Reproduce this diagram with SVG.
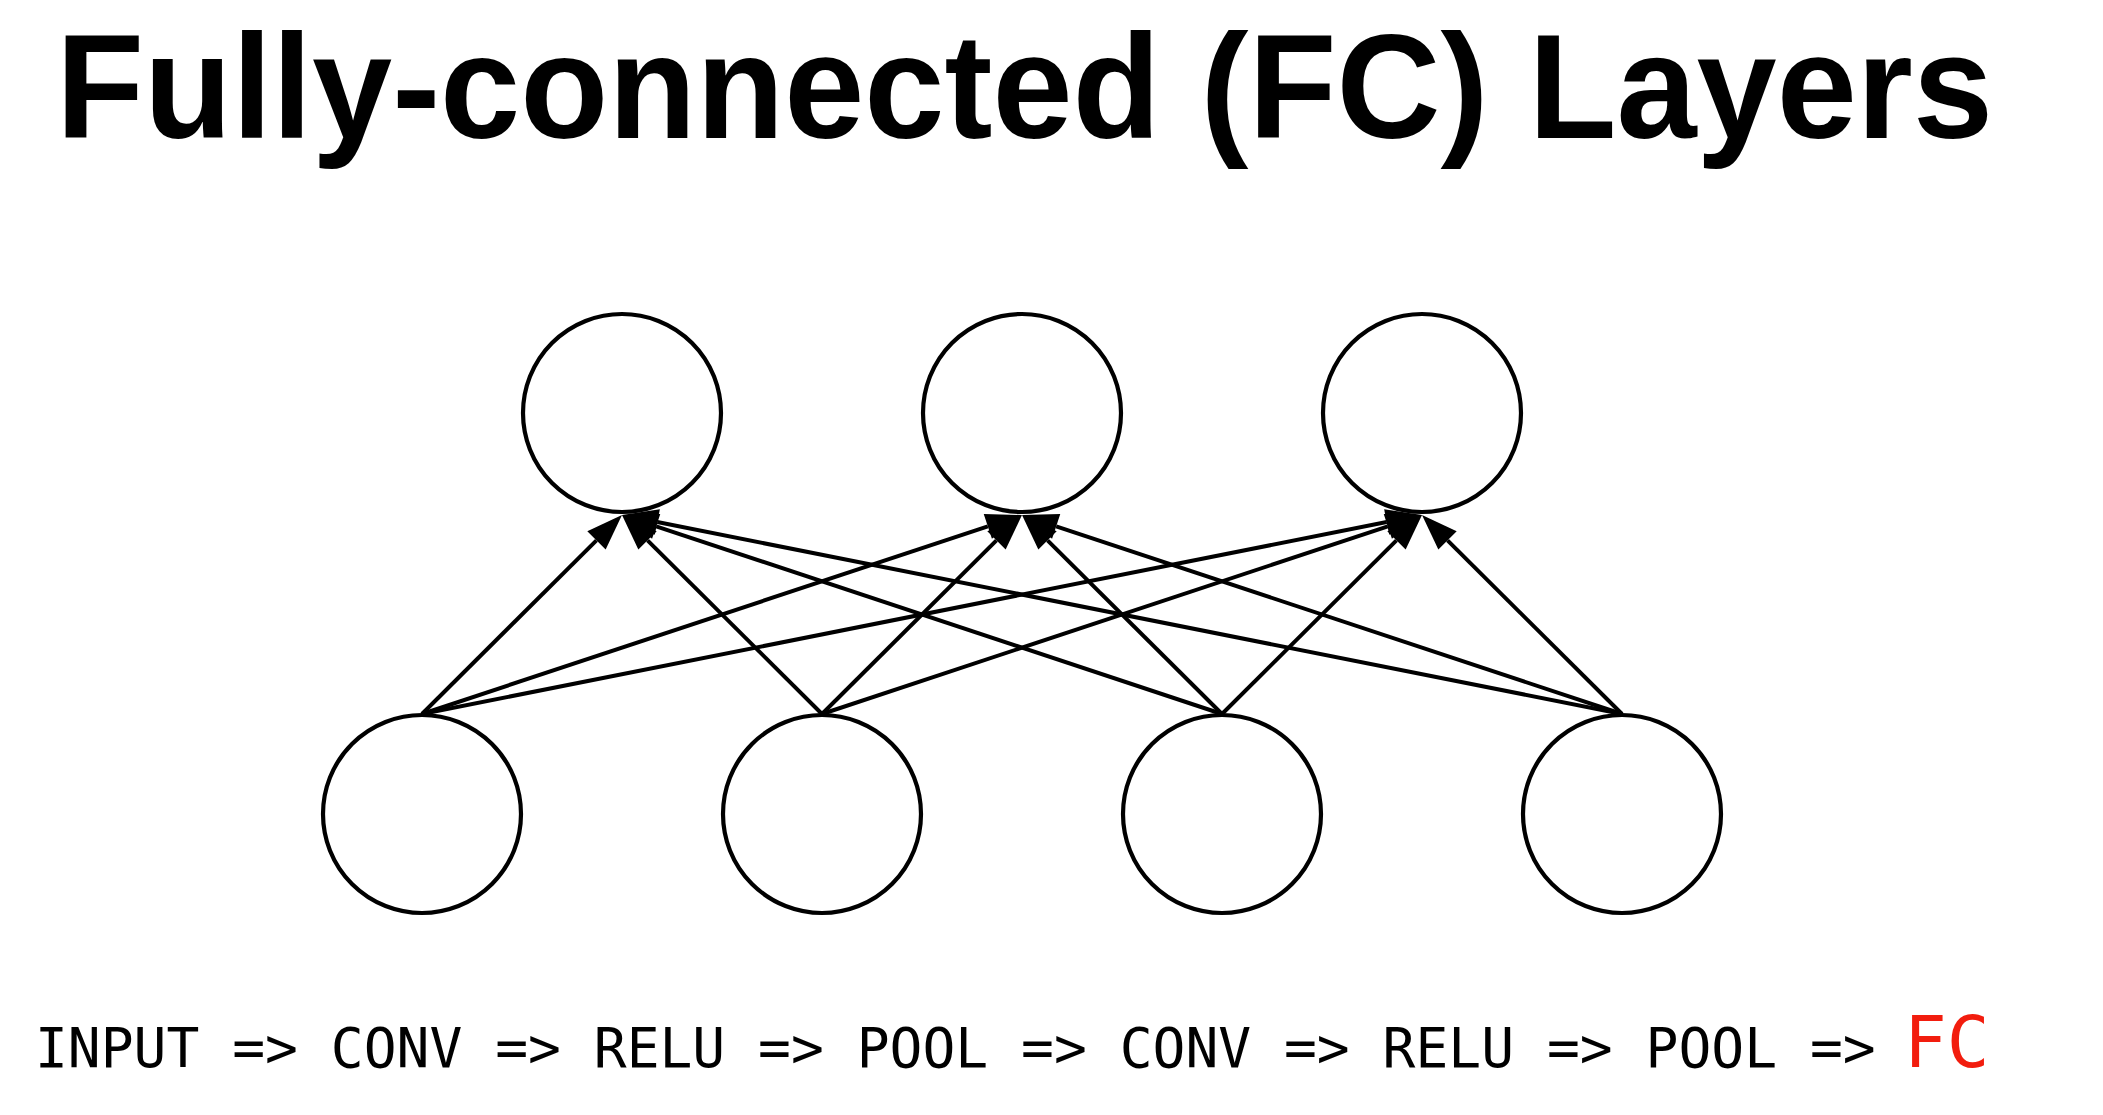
<svg xmlns="http://www.w3.org/2000/svg" width="2103" height="1115" viewBox="0 0 2103 1115">
<style>
.node{fill:#fff;stroke:#000;stroke-width:4.2}
.edge{stroke:#000;stroke-width:4;fill:none;marker-end:url(#arr)}
.title{font-family:"Liberation Sans",Arial,sans-serif;font-weight:bold;font-size:149px;fill:#000}
.pipe{font-family:"DejaVu Sans Mono","Liberation Mono",monospace;font-size:54.6px;fill:#000}
.fc{font-family:"DejaVu Sans Mono","Liberation Mono",monospace;font-size:71px;fill:#f21d0e}
</style>
<defs>
<marker id="arr" markerUnits="userSpaceOnUse" markerWidth="40" markerHeight="30" refX="0" refY="0" viewBox="0 -15 40 30" orient="auto" overflow="visible">
<path d="M0,-13 L36,0 L0,13 z" fill="#000"/>
</marker>
</defs>
<rect width="2103" height="1115" fill="#fff"/>
<text class="title" x="56" y="138" textLength="1937" lengthAdjust="spacingAndGlyphs">Fully-connected (FC) Layers</text>
<g id="connectors">
<line class="edge" x1="422" y1="714" x2="596.48" y2="540.40"/>
<line class="edge" x1="422" y1="714" x2="987.83" y2="526.33"/>
<line class="edge" x1="422" y1="714" x2="1386.69" y2="522.03"/>
<line class="edge" x1="822" y1="714" x2="647.52" y2="540.40"/>
<line class="edge" x1="822" y1="714" x2="996.48" y2="540.40"/>
<line class="edge" x1="822" y1="714" x2="1387.83" y2="526.33"/>
<line class="edge" x1="1222" y1="714" x2="656.17" y2="526.33"/>
<line class="edge" x1="1222" y1="714" x2="1047.52" y2="540.40"/>
<line class="edge" x1="1222" y1="714" x2="1396.48" y2="540.40"/>
<line class="edge" x1="1622" y1="714" x2="657.31" y2="522.03"/>
<line class="edge" x1="1622" y1="714" x2="1056.17" y2="526.33"/>
<line class="edge" x1="1622" y1="714" x2="1447.52" y2="540.40"/>
</g>
<g id="t1"><circle class="node" cx="622" cy="413" r="99"/></g>
<g id="t2"><circle class="node" cx="1022" cy="413" r="99"/></g>
<g id="t3"><circle class="node" cx="1422" cy="413" r="99"/></g>
<g id="b1"><circle class="node" cx="422" cy="814" r="99"/></g>
<g id="b2"><circle class="node" cx="822" cy="814" r="99"/></g>
<g id="b3"><circle class="node" cx="1222" cy="814" r="99"/></g>
<g id="b4"><circle class="node" cx="1622" cy="814" r="99"/></g>
<text class="pipe" x="35" y="1067" xml:space="preserve">INPUT =&gt; CONV =&gt; RELU =&gt; POOL =&gt; CONV =&gt; RELU =&gt; POOL =&gt;</text>
<text class="fc" x="1904" y="1067">FC</text>
</svg>
